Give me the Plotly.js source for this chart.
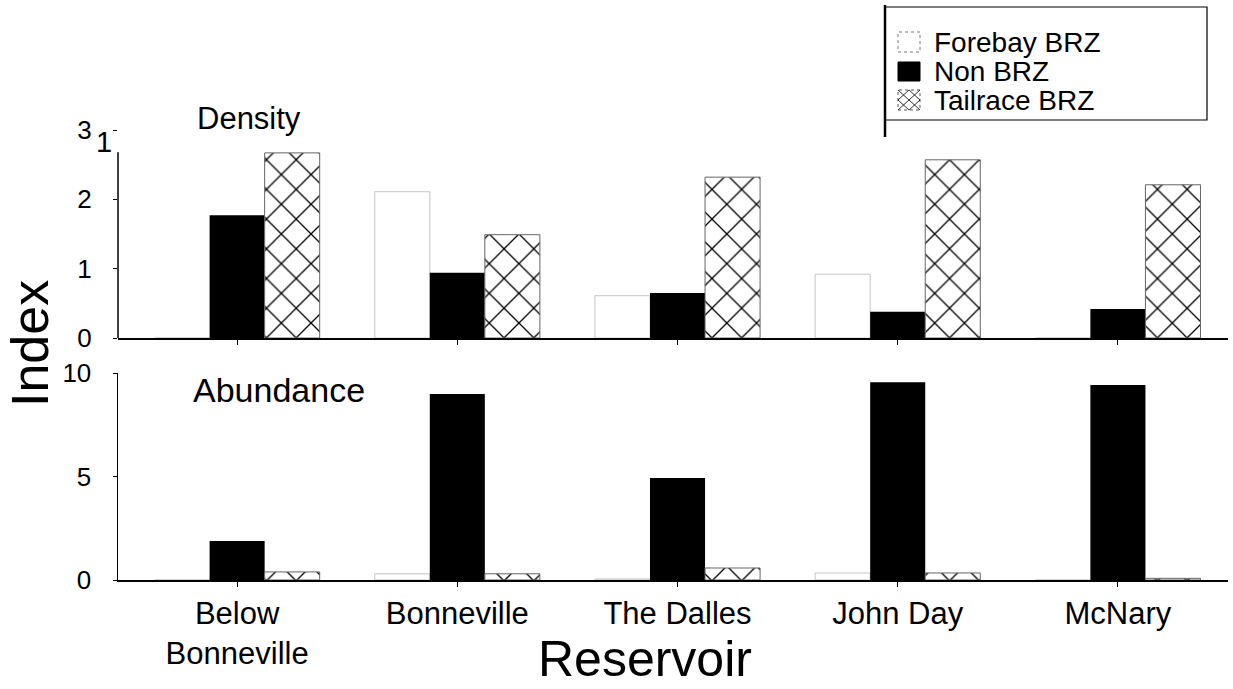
<!DOCTYPE html>
<html><head><meta charset="utf-8">
<script src="https://cdn.plot.ly/plotly-3.0.1.min.js"></script>
<style>html,body{margin:0;padding:0;background:#fff}#chart{width:1233px;height:689px}</style>
</head><body><div id="chart"></div>
<script>
// ---- data ----
const categories = ['Below Bonneville', 'Bonneville', 'The Dalles', 'John Day', 'McNary'];
const tickLabels = ['Below<br>Bonneville', 'Bonneville', 'The Dalles', 'John Day', 'McNary'];
const seriesNames = ['Forebay BRZ', 'Non BRZ', 'Tailrace BRZ'];
const densityForebay = [0, 2.11, 0.61, 0.92, 0];
const densityNon = [1.77, 0.94, 0.65, 0.38, 0.42];
const densityTailrace = [2.67, 1.49, 2.32, 2.57, 2.21];
const abundanceForebay = [0, 0.30, 0.05, 0.34, 0];
const abundanceNon = [1.88, 8.98, 4.93, 9.55, 9.42];
const abundanceTailrace = [0.39, 0.30, 0.58, 0.34, 0.08];
const densityTicks = [0, 1, 2, 3];
const abundanceTicks = [0, 5, 10];

// ---- helpers ----
const W = 1233, H = 689;
const px = x => x / W;
const py = y => 1 - y / H;
const FONT = 'Liberation Sans, Arial, Helvetica, sans-serif';

const styles = [
  {color: 'white', line: {color: '#c4c4c4', width: 1}},
  {color: 'black', line: {color: 'black', width: 0}},
  {color: 'white', line: {color: '#666', width: 1},
   pattern: {shape: 'x', fgcolor: 'black', bgcolor: 'white', size: 21, solidity: 0.12}}
];

function makeTrace(i, values, xa, ya) {
  return {
    type: 'bar', name: seriesNames[i], x: categories, y: values,
    xaxis: xa, yaxis: ya, marker: styles[i], showlegend: false, hoverinfo: 'skip'
  };
}

const data = [
  makeTrace(0, densityForebay, 'x', 'y'),
  makeTrace(1, densityNon, 'x', 'y'),
  makeTrace(2, densityTailrace, 'x', 'y'),
  makeTrace(0, abundanceForebay, 'x2', 'y2'),
  makeTrace(1, abundanceNon, 'x2', 'y2'),
  makeTrace(2, abundanceTailrace, 'x2', 'y2')
];

const xDomain = [px(118), px(1228)];
const xCommon = {
  type: 'category', domain: xDomain, range: [-0.541, 4.5],
  showline: true, linecolor: 'black', linewidth: 1.5,
  ticks: 'outside', ticklen: 5, tickcolor: 'black', tickwidth: 1,
  tickmode: 'array', tickvals: categories, ticktext: tickLabels,
  showgrid: false, zeroline: false, fixedrange: true
};
const yCommon = {
  showgrid: false, zeroline: false, fixedrange: true,
  ticks: 'outside', ticklen: 4, tickcolor: 'black', tickwidth: 1,
  tickfont: {family: FONT, size: 26, color: 'black'},
  ticklabelstandoff: 16, linecolor: 'black', linewidth: 1.5
};

const legendFont = {family: FONT, size: 28, color: 'black'};

const layout = {
  width: W, height: H,
  margin: {l: 0, r: 0, t: 0, b: 0},
  paper_bgcolor: 'white', plot_bgcolor: 'white',
  font: {family: FONT, color: 'black'},
  barmode: 'group', bargap: 0.25, bargroupgap: 0,
  showlegend: false,
  xaxis: Object.assign({}, xCommon, {anchor: 'y', showticklabels: false}),
  xaxis2: Object.assign({}, xCommon, {anchor: 'y2', showticklabels: true,
    tickfont: {family: FONT, size: 31, color: 'black'}}),
  yaxis: Object.assign({}, yCommon, {domain: [py(338), py(130)], range: [0, 3],
    tickmode: 'array', tickvals: densityTicks, showline: false, anchor: 'x'}),
  yaxis2: Object.assign({}, yCommon, {domain: [py(580), py(373)], range: [0, 10],
    tickmode: 'array', tickvals: abundanceTicks, showline: true, anchor: 'x2'}),
  shapes: [
    // density y-axis line (drawn only to top of data region as in the original)
    {type: 'line', xref: 'x domain', yref: 'y', x0: 0, x1: 0, y0: 0, y1: 2.68,
     line: {color: 'black', width: 1.5}},
    // legend frame
    {type: 'rect', xref: 'paper', yref: 'paper', x0: px(885), x1: px(1207), y0: py(120), y1: py(7),
     line: {color: 'black', width: 1.2}, fillcolor: 'rgba(0,0,0,0)'},
    {type: 'line', xref: 'paper', yref: 'paper', x0: px(885), x1: px(885), y0: py(137), y1: py(5),
     line: {color: 'black', width: 2.5}},
    // legend swatches
    {type: 'rect', xref: 'paper', yref: 'paper', x0: px(898), x1: px(920), y0: py(52), y1: py(32),
     line: {color: '#777', width: 1, dash: 'dot'}, fillcolor: 'white'},
    {type: 'rect', xref: 'paper', yref: 'paper', x0: px(898), x1: px(920), y0: py(81), y1: py(62),
     line: {color: 'black', width: 1}, fillcolor: 'black'},
    {type: 'rect', xref: 'paper', yref: 'paper', x0: px(898), x1: px(920), y0: py(110), y1: py(90),
     line: {color: '#555', width: 1, dash: 'dot'}, fillcolor: 'white'},
    {type: 'path', xref: 'paper', yref: 'paper',
     path: 'M' + px(898) + ',' + py(90) + 'L' + px(920) + ',' + py(110) +
           'M' + px(920) + ',' + py(90) + 'L' + px(898) + ',' + py(110) +
           'M' + px(909) + ',' + py(90) + 'L' + px(920) + ',' + py(100) + 'L' + px(909) + ',' + py(110) +
           'L' + px(898) + ',' + py(100) + 'Z',
     line: {color: 'black', width: 0.8}}
  ],
  annotations: [
    {text: 'Density', xref: 'paper', yref: 'paper', x: px(195), y: py(118), xanchor: 'left', yanchor: 'middle',
     showarrow: false, font: {family: FONT, size: 31, color: 'black'}},
    {text: 'Abundance', xref: 'paper', yref: 'paper', x: px(191), y: py(390), xanchor: 'left', yanchor: 'middle',
     showarrow: false, font: {family: FONT, size: 34, color: 'black'}},
    {text: '1', xref: 'paper', yref: 'paper', x: px(104), y: py(142), xanchor: 'center', yanchor: 'middle',
     showarrow: false, font: {family: FONT, size: 29, color: 'black'}},
    {text: 'Index', xref: 'paper', yref: 'paper', x: px(30), y: py(344), xanchor: 'center', yanchor: 'middle',
     textangle: -90, showarrow: false, font: {family: FONT, size: 52, color: 'black'}},
    {text: 'Reservoir', xref: 'paper', yref: 'paper', x: px(645), y: 0, xanchor: 'center', yanchor: 'bottom',
     showarrow: false, font: {family: FONT, size: 50, color: 'black'}},
    {text: seriesNames[0], xref: 'paper', yref: 'paper', x: px(932), y: py(42), xanchor: 'left', yanchor: 'middle',
     showarrow: false, font: legendFont},
    {text: seriesNames[1], xref: 'paper', yref: 'paper', x: px(932), y: py(71.5), xanchor: 'left', yanchor: 'middle',
     showarrow: false, font: legendFont},
    {text: seriesNames[2], xref: 'paper', yref: 'paper', x: px(932), y: py(101), xanchor: 'left', yanchor: 'middle',
     showarrow: false, font: legendFont}
  ]
};

Plotly.newPlot('chart', data, layout, {staticPlot: true, displayModeBar: false});
</script>
</body></html>
